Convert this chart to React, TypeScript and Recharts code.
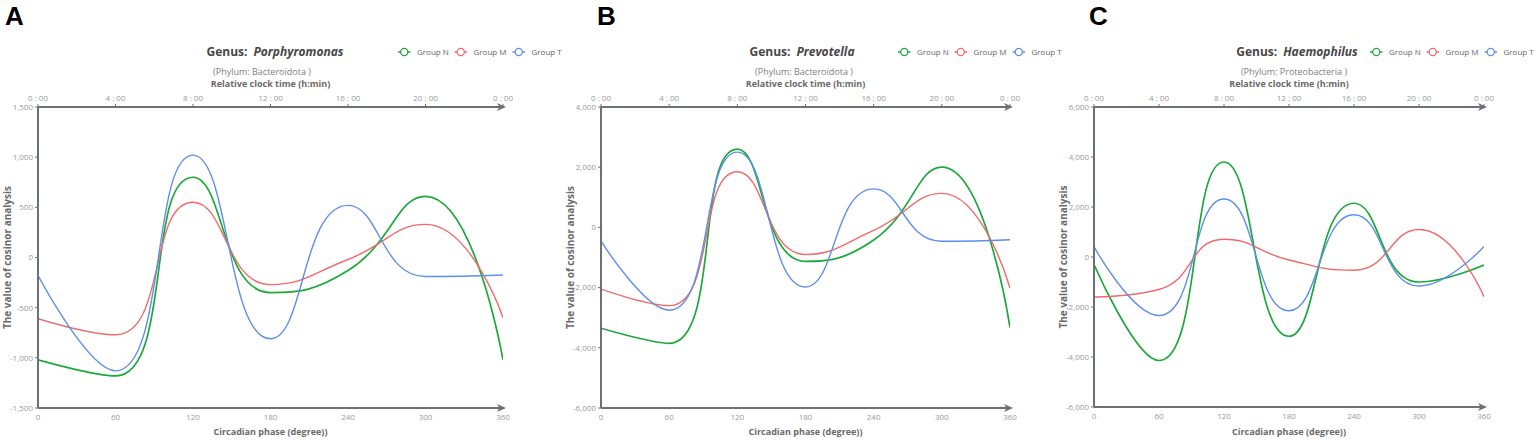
import React from 'react';
import { LineChart, Line, XAxis, YAxis } from 'recharts';

// ---------- data ----------
const phases = [0, 60, 120, 180, 240, 300, 360];
const clockHours = [0, 4, 8, 12, 16, 20, 0];

const groupKeys = ['N', 'M', 'T'];
const groupNames = ['Group N', 'Group M', 'Group T'];
const groupColors = ['#1ea83c', '#ef6b6b', '#5f8fe8'];
const groupWidths = [1.7, 1.4, 1.4];

const aN = [-1020, -1180, 800, -350, -130, 610, -1020];
const aM = [-610, -770, 550, -270, -20, 330, -600];
const aT = [-180, -1130, 1020, -810, 520, -190, -175];

const bN = [-3350, -3850, 2600, -1130, -420, 2000, -3330];
const bM = [-2050, -2600, 1850, -900, -100, 1130, -2020];
const bT = [-450, -2750, 2500, -1980, 1280, -460, -410];

const cN = [-300, -4140, 3800, -3170, 2150, -1000, -320];
const cM = [-1600, -1300, 710, -120, -530, 1100, -1590];
const cT = [420, -2340, 2320, -2150, 1690, -1160, 420];

const ticksA = [-1500, -1000, -500, 0, 500, 1000, 1500];
const ticksB = [-6000, -4000, -2000, 0, 2000, 4000];
const ticksC = [-6000, -4000, -2000, 0, 2000, 4000, 6000];

// ---------- smooth curve (same control-point rule as a smoothed polyline) ----------
function drawSmooth(ctx: any, pts: number[][], smooth: number) {
  const n = pts.length;
  if (!n) return;
  let prevX = 0, prevY = 0, cpx0 = 0, cpy0 = 0, cpx1 = 0, cpy1 = 0, nextCpx0 = 0, nextCpy0 = 0;
  for (let i = 0; i < n; i++) {
    const x = pts[i][0];
    const y = pts[i][1];
    if (i === 0) {
      ctx.moveTo(x, y);
      cpx0 = x;
      cpy0 = y;
    } else {
      if (i === n - 1) {
        cpx1 = x;
        cpy1 = y;
      } else {
        const nextX = pts[i + 1][0];
        const nextY = pts[i + 1][1];
        let vx = nextX - prevX;
        let vy = nextY - prevY;
        const dx0 = x - prevX, dx1 = nextX - x, dy0 = y - prevY, dy1 = nextY - y;
        const lenPrev = Math.sqrt(dx0 * dx0 + dy0 * dy0);
        const lenNext = Math.sqrt(dx1 * dx1 + dy1 * dy1);
        const ratio = lenNext / (lenNext + lenPrev);
        nextCpx0 = x + vx * smooth * ratio;
        nextCpy0 = y + vy * smooth * ratio;
        nextCpx0 = Math.min(nextCpx0, Math.max(nextX, x));
        nextCpy0 = Math.min(nextCpy0, Math.max(nextY, y));
        nextCpx0 = Math.max(nextCpx0, Math.min(nextX, x));
        nextCpy0 = Math.max(nextCpy0, Math.min(nextY, y));
        vx = nextCpx0 - x;
        vy = nextCpy0 - y;
        cpx1 = x - (vx * lenPrev) / lenNext;
        cpy1 = y - (vy * lenPrev) / lenNext;
        cpx1 = Math.min(cpx1, Math.max(prevX, x));
        cpy1 = Math.min(cpy1, Math.max(prevY, y));
        cpx1 = Math.max(cpx1, Math.min(prevX, x));
        cpy1 = Math.max(cpy1, Math.min(prevY, y));
        vx = x - cpx1;
        vy = y - cpy1;
        nextCpx0 = x + (vx * lenNext) / lenPrev;
        nextCpy0 = y + (vy * lenNext) / lenPrev;
      }
      ctx.bezierCurveTo(cpx0, cpy0, cpx1, cpy1, x, y);
      cpx0 = nextCpx0;
      cpy0 = nextCpy0;
    }
    prevX = x;
    prevY = y;
  }
}

function smoothCurve(context: any) {
  let pts: number[][] = [];
  return {
    areaStart() {},
    areaEnd() {},
    lineStart() {
      pts = [];
    },
    lineEnd() {
      drawSmooth(context, pts, 0.5);
    },
    point(x: number, y: number) {
      pts.push([+x, +y]);
    },
  };
}

// ---------- layout ----------
const H = 442;
const PLOT_TOP = 107;
const AXIS_COLOR = '#6e7079';
const FONT = '"Open Sans", "Noto Sans", sans-serif';

const panels = [
  {
    letter: 'A', genus: 'Porphyromonas', phylum: 'Bacteroidota',
    series: [aN, aM, aT], ticks: ticksA,
    left: 0, width: 520, plotLeft: 38, plotRight: 503, plotBottom: 408,
    letterX: 5, titleCx: 275, subCx: 262, legendX: 398, yLabelX: 10.5,
  },
  {
    letter: 'B', genus: 'Prevotella', phylum: 'Bacteroidota',
    series: [bN, bM, bT], ticks: ticksB,
    left: 560, width: 470, plotLeft: 601, plotRight: 1010, plotBottom: 408,
    letterX: 597, titleCx: 802, subCx: 804, legendX: 898, yLabelX: 574,
  },
  {
    letter: 'C', genus: 'Haemophilus', phylum: 'Proteobacteria',
    series: [cN, cM, cT], ticks: ticksC,
    left: 1055, width: 480, plotLeft: 1094, plotRight: 1484, plotBottom: 407,
    letterX: 1089, titleCx: 1297, subCx: 1294, legendX: 1370, yLabelX: 1067,
  },
];

const fmt = (v: number) => v.toLocaleString('en-US');
const tickStyle = { fontSize: 8, fill: '#9a9a9a', fontFamily: FONT };

function Panel({ p }: { p: any }) {
  const data = phases.map((deg, i) => ({
    deg,
    N: p.series[0][i],
    M: p.series[1][i],
    T: p.series[2][i],
  }));
  const yAxisW = 30;
  const margin = {
    top: PLOT_TOP - 20,
    left: p.plotLeft - p.left - yAxisW,
    right: p.left + p.width - p.plotRight,
    bottom: H - p.plotBottom - 20,
  };
  const ymin = p.ticks[0];
  const ymax = p.ticks[p.ticks.length - 1];
  return (
    <div style={{ position: 'absolute', left: p.left, top: 0 }}>
      <LineChart width={p.width} height={H} data={data} margin={margin}>
        <XAxis
          dataKey="deg"
          type="number"
          domain={[0, 360]}
          ticks={phases}
          interval={0}
          allowDataOverflow
          height={20}
          axisLine={{ stroke: AXIS_COLOR, strokeWidth: 2 }}
          tickLine={false}
          tickSize={3}
          tickMargin={3}
          tick={tickStyle}
        />
        <XAxis
          xAxisId="top"
          orientation="top"
          dataKey="deg"
          type="number"
          domain={[0, 360]}
          ticks={phases}
          interval={0}
          allowDataOverflow
          height={20}
          axisLine={{ stroke: AXIS_COLOR, strokeWidth: 2 }}
          tickLine={{ stroke: AXIS_COLOR }}
          tickSize={3}
          tickMargin={3}
          tick={tickStyle}
          tickFormatter={(v: number, i: number) => `${clockHours[i]} : 00`}
        />
        <YAxis
          type="number"
          domain={[ymin, ymax]}
          ticks={p.ticks}
          interval={0}
          allowDataOverflow
          width={yAxisW}
          axisLine={{ stroke: AXIS_COLOR, strokeWidth: 2 }}
          tickLine={{ stroke: AXIS_COLOR }}
          tickSize={3}
          tickMargin={2}
          tick={tickStyle}
          tickFormatter={fmt}
        />
        {groupKeys.map((k, i) => (
          <Line
            key={k}
            dataKey={k}
            type={smoothCurve as any}
            stroke={groupColors[i]}
            strokeWidth={groupWidths[i]}
            dot={false}
            activeDot={false}
            isAnimationActive={false}
          />
        ))}
      </LineChart>
    </div>
  );
}

function Overlay() {
  const legendOffsets = [0, 56.5, 114.5];
  return (
    <svg
      width={1535}
      height={H}
      style={{ position: 'absolute', left: 0, top: 0, pointerEvents: 'none' }}
    >
      {panels.map((p) => {
        const cx = (p.plotLeft + p.plotRight) / 2;
        const cy = (PLOT_TOP + p.plotBottom) / 2;
        const tip = p.plotRight + 3;
        return (
          <g key={p.letter}>
            <text x={p.letterX} y={25} fontSize={26} fontWeight="bold" fontFamily='"Liberation Sans", Arial, sans-serif' fill="#000">
              {p.letter}
            </text>
            <text x={p.titleCx} y={56} textAnchor="middle" fontSize={12} fontWeight="bold" fontFamily={FONT} fill="#474747">
              <tspan>Genus:</tspan>
              <tspan dx={6} fontStyle="italic">{p.genus}</tspan>
            </text>
            <text x={p.subCx} y={74.5} textAnchor="middle" fontSize={9} fontFamily={FONT} fill="#808080">
              {`(Phylum: ${p.phylum} )`}
            </text>
            <text x={cx} y={86.5} textAnchor="middle" fontSize={9} fontWeight="bold" fontFamily={FONT} fill="#6a6a6a">
              Relative clock time (h:min)
            </text>
            <text x={cx} y={434.5} textAnchor="middle" fontSize={9} fontWeight="bold" fontFamily={FONT} fill="#6a6a6a">
              Circadian phase (degree))
            </text>
            <text
              x={p.yLabelX}
              y={cy}
              textAnchor="middle"
              fontSize={10}
              fontWeight="bold"
              fontFamily={FONT}
              fill="#6a6a6a"
              transform={`rotate(-90 ${p.yLabelX} ${cy})`}
            >
              The value of cosinor analysis
            </text>
            {[PLOT_TOP, p.plotBottom].map((ay) => (
              <path key={ay} d={`M${tip - 9},${ay - 4} L${tip},${ay} L${tip - 9},${ay + 4} L${tip - 6.5},${ay} Z`} fill={AXIS_COLOR} />
            ))}
            {groupNames.map((g, i) => {
              const x0 = p.legendX + legendOffsets[i];
              return (
                <g key={g}>
                  <line x1={x0} y1={52} x2={x0 + 12.5} y2={52} stroke={groupColors[i]} strokeWidth={1.5} />
                  <circle cx={x0 + 6.25} cy={52} r={3.6} fill="#fff" stroke={groupColors[i]} strokeWidth={1.3} />
                  <text x={x0 + 19} y={54.8} fontSize={8} fontFamily={FONT} fill="#666">
                    {g}
                  </text>
                </g>
              );
            })}
          </g>
        );
      })}
    </svg>
  );
}

export default function App() {
  return (
    <div style={{ position: 'absolute', left: 0, top: 0, width: 1535, height: H, background: '#fff' }}>
      {panels.map((p) => (
        <Panel key={p.letter} p={p} />
      ))}
      <Overlay />
    </div>
  );
}
